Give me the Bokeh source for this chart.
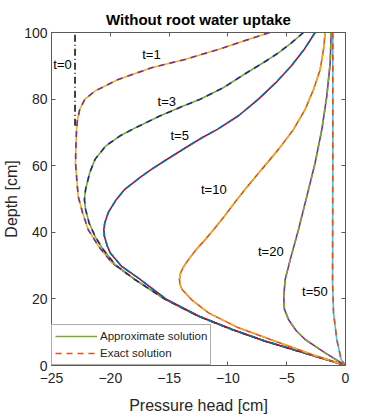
from bokeh.plotting import figure
from bokeh.models import LinearAxis, FixedTicker, Range1d, Legend, LegendItem, ColumnDataSource
from bokeh.core.properties import value
from bokeh.embed import file_html
from bokeh.resources import INLINE

# ---- data (pressure head [cm] vs depth [cm]) ----
t0_depth = [72, 100]
t0_head = [-23.0, -23.0]

t1_depth = [100, 97.5, 94.9, 91.9, 89.4, 85.9, 82.4, 79.9, 76.9, 73.5, 70.9, 65.9, 60.9, 55.9, 50.8, 45.8, 40.8, 35.8, 30.8, 25.8, 19.8, 14.8, 10.8, 7.3, 4.3, 1.3, 0]
t1_head = [-6.45, -8.6, -10.83, -13.66, -16.5, -19.33, -21.32, -22.17, -22.6, -22.8, -22.87, -22.92, -22.96, -22.85, -22.73, -22.35, -21.88, -21.0, -19.85, -17.9, -15.3, -12.5, -9.67, -6.83, -4.0, -1.16, 0]

t3_depth = [100, 96.9, 93.9, 90.9, 87.9, 83.4, 79.9, 77.9, 74.9, 71.5, 68.9, 65.9, 61.9, 57.9, 52.9, 49.8, 46.8, 42.8, 38.8, 34.8, 30.3, 25.8, 19.8, 14.8, 10.8, 7.3, 4.3, 1.3, 0]
t3_head = [-3.57, -4.6, -5.7, -7.0, -8.4, -10.4, -12.4, -13.8, -15.8, -17.8, -19.2, -20.4, -21.3, -21.75, -22.1, -22.2, -22.1, -21.8, -21.3, -20.6, -19.6, -17.9, -15.3, -12.5, -9.67, -6.83, -4.0, -1.16, 0]

t5_depth = [100, 95, 90, 85, 80, 75, 70.9, 68.4, 65.4, 61.4, 58.9, 56.8, 52.9, 49.8, 45.9, 42.8, 40.8, 38.8, 35.8, 33.8, 29.8, 26.3, 19.8, 14.8, 10.8, 7.3, 4.3, 1.3, 0]
t5_head = [-2.58, -3.5, -4.6, -5.9, -7.4, -9.1, -10.9, -12.2, -13.6, -15.4, -16.5, -17.35, -18.77, -19.5, -20.18, -20.47, -20.55, -20.5, -20.25, -20.0, -19.05, -17.63, -15.2, -12.45, -9.6, -6.8, -3.95, -1.14, 0]

t10_depth = [100, 94.9, 88.9, 82.9, 76.9, 70.9, 64.9, 58.9, 52.9, 48.8, 44.8, 41.3, 37.8, 34.8, 31.8, 29.5, 27.8, 26.0, 24.5, 22.8, 19.8, 15.8, 11.3, 7.3, 3.3, 0]
t10_head = [-1.73, -1.87, -2.15, -2.72, -3.43, -4.42, -5.7, -7.12, -8.53, -9.45, -10.3, -11.1, -11.93, -12.7, -13.35, -13.8, -14.02, -14.12, -14.08, -13.9, -13.1, -11.65, -9.1, -5.98, -2.86, 0]

t20_depth = [100, 90.9, 80.9, 70.9, 60.9, 50.8, 40.8, 31.8, 25.8, 20.8, 17.0, 13.8, 10.5, 7.8, 3.8, 0]
t20_head = [-1.22, -1.3, -1.59, -2.01, -2.58, -3.29, -4.0, -4.7, -5.13, -5.25, -5.2, -4.85, -4.2, -3.43, -1.73, 0]

t50_depth = [100, 60, 25, 15.8, 7.8, 1.8, 0]
t50_head = [-1.08, -1.08, -1.1, -1.02, -0.74, -0.37, 0]

label_text = ["t=0", "t=1", "t=3", "t=5", "t=10", "t=20", "t=50"]
label_x = [-24.06, -16.5, -15.2, -14.1, -11.2, -6.35, -2.6]
label_y = [90.4, 93.4, 79.4, 69.0, 53.0, 34.3, 22.3]

x_ticks = [-25, -20, -15, -10, -5, 0]
y_ticks = [0, 20, 40, 60, 80, 100]

# (approx colour solid, exact colour dashed)
curves = [
    (t1_head, t1_depth, "#EDB120", "#7E2F8E"),
    (t3_head, t3_depth, "#77AC30", "#1F2A8C"),
    (t5_head, t5_depth, "#A2142F", "#0072BD"),
    (t10_head, t10_depth, "#D95319", "#EDB120"),
    (t20_head, t20_depth, "#7E2F8E", "#77AC30"),
    (t50_head, t50_depth, "#4DBEEE", "#D95319"),
]

FONT = "Liberation Sans"
TXT = "#262626"
AX = "#5a5a5a"

p = figure(frame_width=294, frame_height=333, output_backend="svg", toolbar_location=None,
           x_range=Range1d(-25, 0), y_range=Range1d(0, 100),
           min_border_left=45, min_border_right=10, min_border_top=32, min_border_bottom=10,
           title="Without root water uptake")
p.title.text_font = FONT
p.title.text_font_size = "15px"
p.title.text_font_style = "bold"
p.title.text_color = "#000000"
p.title.align = "center"
p.title.offset = 0
p.grid.visible = False
p.outline_line_color = AX
p.outline_line_width = 1
p.background_fill_color = "white"
p.border_fill_color = "white"

for ax in (p.xaxis[0], p.yaxis[0]):
    ax.axis_line_color = AX
    ax.major_tick_line_color = AX
    ax.major_tick_in = 4
    ax.major_tick_out = 0
    ax.minor_tick_line_color = None
    ax.major_label_text_font = FONT
    ax.major_label_text_font_size = "14px"
    ax.major_label_text_color = TXT
    ax.axis_label_text_font = FONT
    ax.axis_label_text_font_style = "normal"
    ax.axis_label_text_color = TXT

p.xaxis[0].ticker = FixedTicker(ticks=x_ticks)
p.yaxis[0].ticker = FixedTicker(ticks=y_ticks)
p.xaxis[0].axis_label = "Pressure head [cm]"
p.xaxis[0].axis_label_text_font_size = "16px"
p.xaxis[0].major_label_standoff = 7
p.xaxis[0].axis_label_standoff = 11
p.yaxis[0].axis_label = "Depth [cm]"
p.yaxis[0].axis_label_text_font_size = "16px"
p.yaxis[0].major_label_standoff = 4
p.yaxis[0].axis_label_standoff = 1

for side, ticks in (("above", x_ticks), ("right", y_ticks)):
    a = LinearAxis(ticker=FixedTicker(ticks=ticks))
    a.major_label_text_font_size = "0px"
    a.major_label_standoff = 0
    a.major_tick_in = 4
    a.major_tick_out = 0
    a.minor_tick_line_color = None
    a.axis_line_color = AX
    a.major_tick_line_color = AX
    p.add_layout(a, side)

p.line(t0_head, t0_depth, line_color="black", line_width=1.5, line_dash="7 3 1 3")

for h, d, c_app, c_ex in curves:
    p.line(h, d, line_color=c_app, line_width=1.6)
    p.line(h, d, line_color=c_ex, line_width=1.6, line_dash="6 5")

src = ColumnDataSource(dict(x=label_x, y=label_y, t=label_text))
p.text(x="x", y="y", text="t", source=src, text_font=value(FONT), text_font_size="13px",
       text_align="center", text_baseline="middle", text_color="#000000")

nan = float("nan")
r_app = p.line([nan], [nan], line_color="#77AC30", line_width=1.6)
r_ex = p.line([nan], [nan], line_color="#D95319", line_width=1.6, line_dash="6 5")
leg = Legend(items=[LegendItem(label="Approximate solution", renderers=[r_app]),
                    LegendItem(label="Exact solution", renderers=[r_ex])],
             location="bottom_left")
leg.margin = 0
leg.padding = 3
leg.spacing = 1
leg.glyph_width = 42
leg.glyph_height = 16
leg.label_text_font = FONT
leg.label_text_font_size = "11.5px"
leg.label_text_color = TXT
leg.label_standoff = 3
leg.border_line_color = AX
leg.border_line_width = 1
leg.background_fill_alpha = 1
p.add_layout(leg, "center")

open("out.html", "w").write(file_html(p, INLINE))
